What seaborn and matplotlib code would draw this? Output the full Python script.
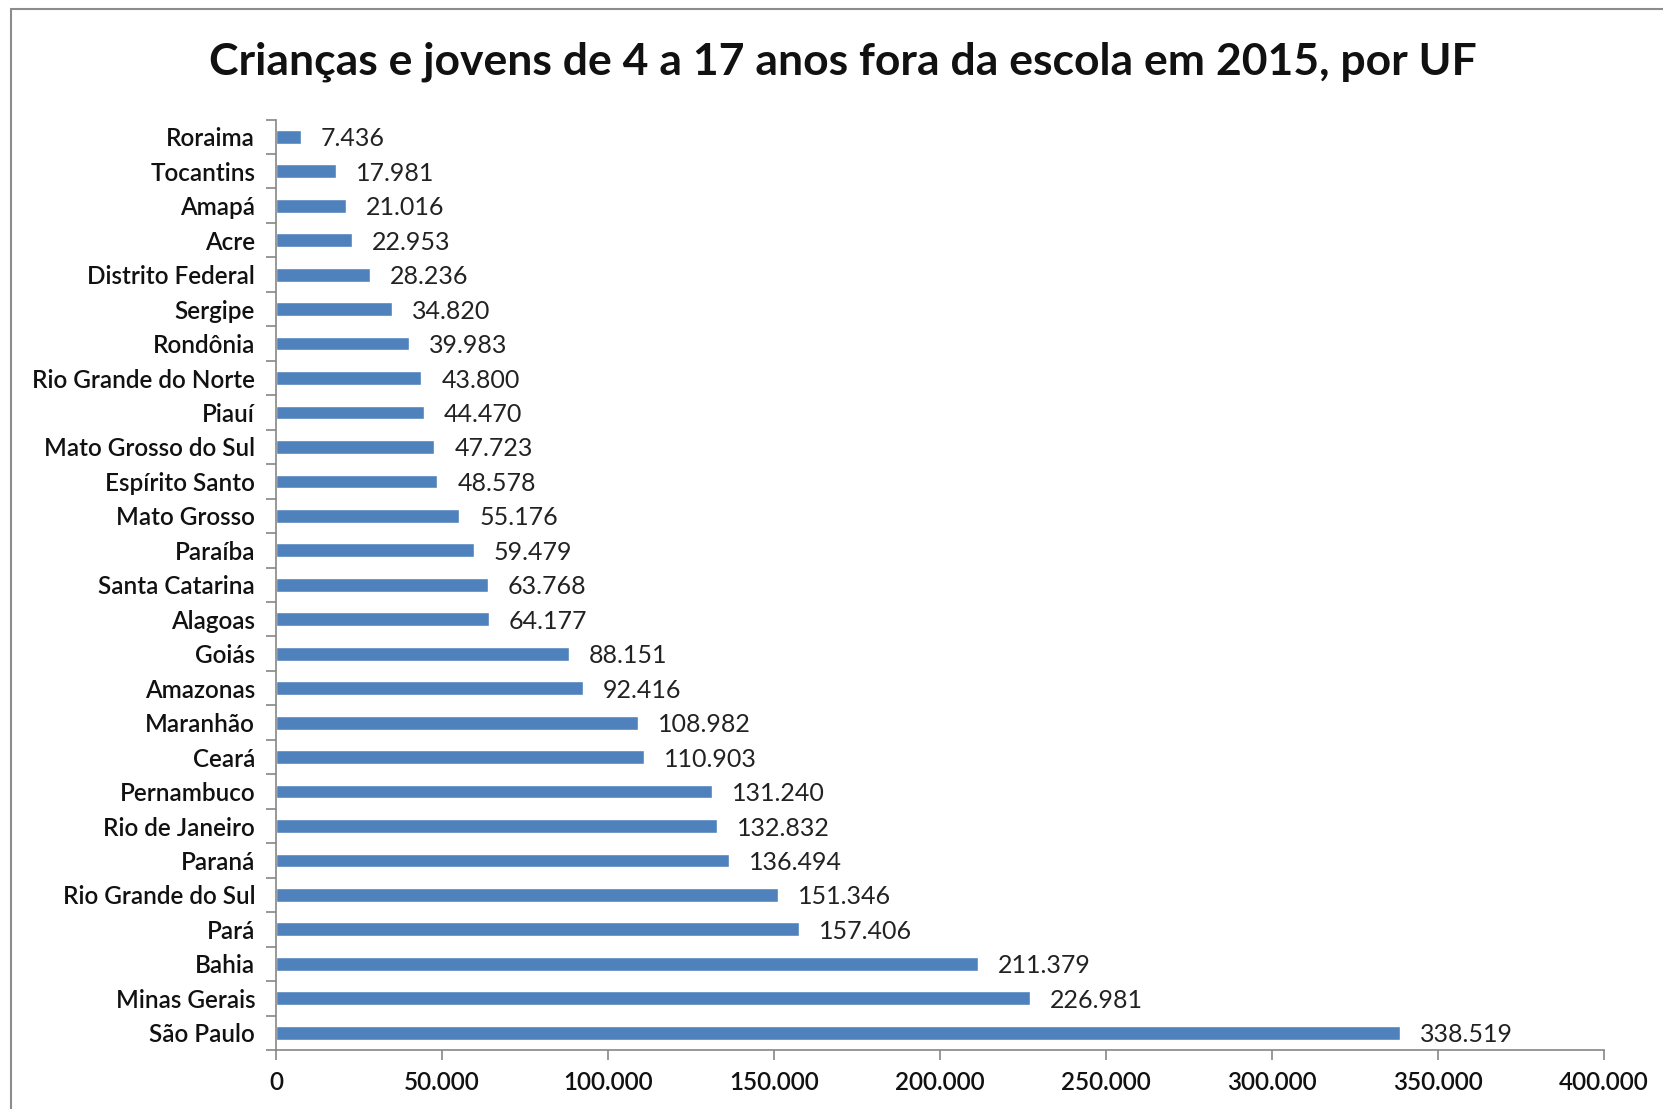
import pandas as pd
import matplotlib
matplotlib.use("Agg")
import matplotlib.pyplot as plt
import matplotlib.patches as mpatches
from matplotlib.ticker import FixedLocator, FuncFormatter
import seaborn as sns

# dados (de cima para baixo)
ufs = ["Roraima", "Tocantins", "Amapá", "Acre", "Distrito Federal", "Sergipe",
       "Rondônia", "Rio Grande do Norte", "Piauí", "Mato Grosso do Sul",
       "Espírito Santo", "Mato Grosso", "Paraíba", "Santa Catarina", "Alagoas",
       "Goiás", "Amazonas", "Maranhão", "Ceará", "Pernambuco", "Rio de Janeiro",
       "Paraná", "Rio Grande do Sul", "Pará", "Bahia", "Minas Gerais", "São Paulo"]
fora_escola = [7436, 17981, 21016, 22953, 28236, 34820, 39983, 43800, 44470,
               47723, 48578, 55176, 59479, 63768, 64177, 88151, 92416, 108982,
               110903, 131240, 132832, 136494, 151346, 157406, 211379, 226981,
               338519]

df = pd.DataFrame({"UF": ufs, "valor": fora_escola})

sns.set_style("white")
plt.rcParams["font.family"] = ["Lato", "DejaVu Sans"]

def milhar(v):
    return f"{int(v):,}".replace(",", ".")

fig = plt.figure(figsize=(16.63, 11.09), dpi=100)
ax = fig.add_axes([0.166, 0.0532, 0.7985, 0.839])

sns.barplot(data=df, x="valor", y="UF", order=ufs, orient="h",
            color="#4F81BD", saturation=1, width=0.4, ax=ax)

for i, v in enumerate(fora_escola):
    ax.text(v + 6000, i, milhar(v), va="center_baseline", ha="left",
            fontsize=18, color="#222222")

ax.set_xlim(0, 400000)
ax.set_ylim(len(ufs) - 0.5, -0.5)
ax.set_xticks(range(0, 400001, 50000))
ax.xaxis.set_major_formatter(FuncFormatter(lambda v, p: milhar(v)))
ax.set_xlabel("")
ax.set_ylabel("")

for s in ["top", "right"]:
    ax.spines[s].set_visible(False)
for s in ["left", "bottom"]:
    ax.spines[s].set_color("#868686")
    ax.spines[s].set_linewidth(1.2)

ax.yaxis.set_minor_locator(FixedLocator([i - 0.5 for i in range(len(ufs) + 1)]))
ax.tick_params(axis="y", which="major", length=0, pad=15, labelsize=17.5)
ax.tick_params(axis="y", which="minor", length=7, color="#868686", width=1.2, left=True)
ax.tick_params(axis="x", which="major", length=7, color="#868686", width=1.2,
               bottom=True, pad=8, labelsize=17.5)
for lbl in ax.get_yticklabels() + ax.get_xticklabels():
    lbl.set_fontweight("semibold")
    lbl.set_color("#111111")

fig.text(0.507, 0.944, "Crianças e jovens de 4 a 17 anos fora da escola em 2015, por UF",
         ha="center", va="center", fontsize=32, fontweight="bold", color="#111111")

# moldura do gráfico
fig.patches.append(mpatches.Rectangle((0.0066, -0.05), 1.1, 1.0419, transform=fig.transFigure,
                                      fill=False, edgecolor="#8C8C8C", linewidth=1.5))

fig.savefig("out.png", dpi=100)
